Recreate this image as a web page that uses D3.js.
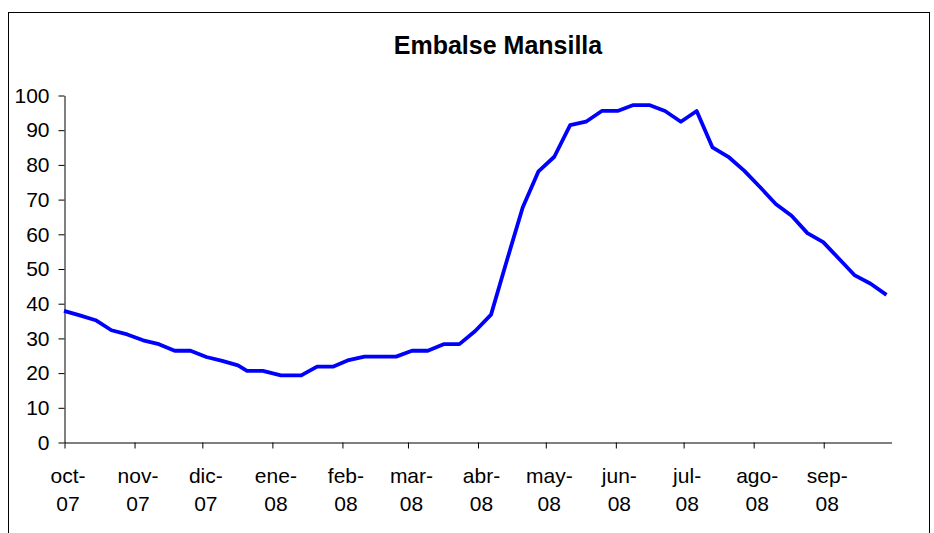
<!DOCTYPE html>
<html>
<head>
<meta charset="utf-8">
<script src="https://cdn.jsdelivr.net/npm/d3@7"></script>
<style>
  body { margin: 0; background: #fff; }
  svg { display: block; font-family: "Liberation Sans", Arial, sans-serif; }
</style>
</head>
<body>
<svg id="chart"></svg>
<script>
// weekly readings, Oct 2007 - Sep 2008
var dates = ["2007-10-01","2007-10-08","2007-10-15","2007-10-22","2007-10-29",
  "2007-11-05","2007-11-12","2007-11-19","2007-11-26","2007-12-03","2007-12-10",
  "2007-12-17","2007-12-21","2007-12-28","2008-01-05","2008-01-14","2008-01-21",
  "2008-01-28","2008-02-04","2008-02-11","2008-02-18","2008-02-25","2008-03-03",
  "2008-03-10","2008-03-17","2008-03-24","2008-03-31","2008-04-07","2008-04-14",
  "2008-04-21","2008-04-28","2008-05-05","2008-05-12","2008-05-19","2008-05-26",
  "2008-06-02","2008-06-09","2008-06-16","2008-06-23","2008-06-30","2008-07-07",
  "2008-07-14","2008-07-21","2008-07-28","2008-08-04","2008-08-11","2008-08-18",
  "2008-08-25","2008-09-01","2008-09-08","2008-09-15","2008-09-22","2008-09-29"];
var values = [37.8,36.5,35.1,32.2,31.0,29.3,28.2,26.3,26.3,24.5,23.4,
  22.1,20.5,20.5,19.2,19.2,21.7,21.7,23.6,24.6,24.6,24.6,26.3,
  26.3,28.2,28.2,32.0,36.7,52.3,67.6,78.0,82.2,91.3,92.3,95.4,
  95.4,97.1,97.1,95.4,92.3,95.4,84.9,82.2,78.2,73.5,68.6,65.2,
  60.2,57.6,52.8,48.0,45.6,42.4];
var monthLabels = [["oct-","07"],["nov-","07"],["dic-","07"],["ene-","08"],
  ["feb-","08"],["mar-","08"],["abr-","08"],["may-","08"],["jun-","08"],
  ["jul-","08"],["ago-","08"],["sep-","08"]];
var yTicks = [0,10,20,30,40,50,60,70,80,90,100];
var title = "Embalse Mansilla";

var width = 934, height = 533;
var margin = {left: 64, right: 43, top: 95, bottom: 91};

var parse = d3.timeParse("%Y-%m-%d");
var data = dates.map(function(d, i) { return {date: parse(d), value: values[i]}; });

var svg = d3.select("#chart")
    .attr("width", width)
    .attr("height", height);

// outer frame
svg.append("rect")
    .attr("x", 8.5).attr("y", 12.5)
    .attr("width", 921).attr("height", 540)
    .attr("fill", "none")
    .attr("stroke", "#000")
    .attr("stroke-width", 1);

svg.append("text")
    .attr("x", 498)
    .attr("y", 54)
    .attr("text-anchor", "middle")
    .style("font-size", "25px")
    .style("font-weight", "bold")
    .attr("fill", "#000")
    .text(title);

var x = d3.scaleTime()
    .domain([parse("2007-10-01"), parse("2008-10-01")])
    .range([margin.left, width - margin.right]);
var y = d3.scaleLinear()
    .domain([0, 100])
    .range([height - margin.bottom, margin.top]);

var monthStarts = d3.timeMonth.range(parse("2007-10-01"), parse("2008-10-01"));

// y axis
var gy = svg.append("g")
    .attr("transform", "translate(" + (margin.left + 0.5) + ",0.5)")
    .call(d3.axisLeft(y).tickValues(yTicks).tickSize(6).tickPadding(9).tickSizeOuter(0));
gy.selectAll("text").style("font-size", "21px").attr("fill", "#000").attr("font-family", null);
gy.selectAll("line, path").attr("stroke", "#000");

// x axis
var gx = svg.append("g")
    .attr("transform", "translate(0.5," + (height - margin.bottom + 0.5) + ")")
    .call(d3.axisBottom(x).tickValues(monthStarts).tickSize(6).tickSizeOuter(0).tickFormat(""));
gx.selectAll("line, path").attr("stroke", "#000");
gx.selectAll(".tick").each(function(d, i) {
    var t = d3.select(this).append("text")
        .attr("fill", "#000")
        .attr("text-anchor", "middle")
        .style("font-size", "21px");
    t.append("tspan").attr("x", 3).attr("y", 40).text(monthLabels[i][0]);
    t.append("tspan").attr("x", 3).attr("y", 68).text(monthLabels[i][1]);
});

var line = d3.line()
    .x(function(d) { return x(d.date); })
    .y(function(d) { return y(d.value); });

svg.append("path")
    .datum(data)
    .attr("fill", "none")
    .attr("stroke", "#0000ff")
    .attr("stroke-width", 3.8)
    .attr("stroke-linejoin", "round")
    .attr("d", line);
</script>
</body>
</html>
